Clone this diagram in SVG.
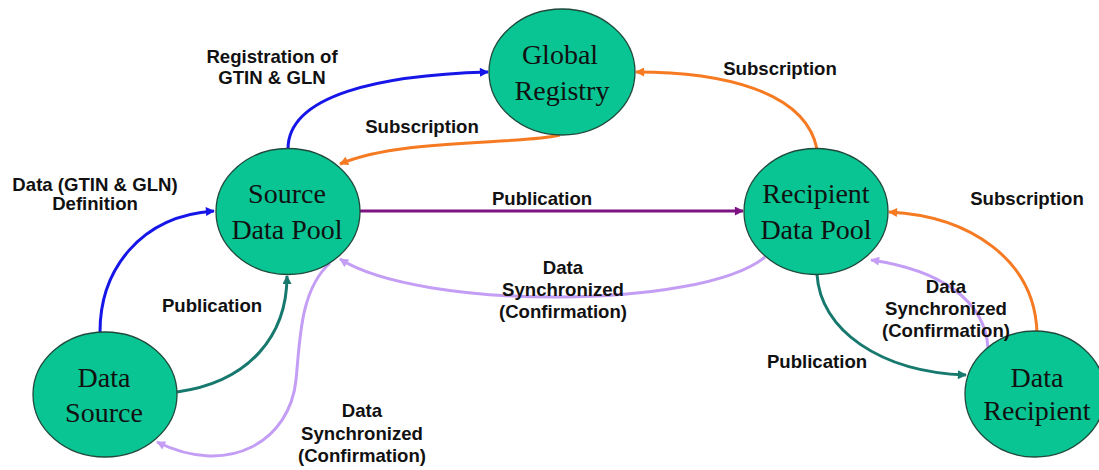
<svg xmlns="http://www.w3.org/2000/svg" width="1099" height="470" viewBox="0 0 1099 470">
<style>
.node{fill:#08c593;stroke:#1f4a3c;stroke-width:1.3}
.nt{font-family:"Liberation Serif","Times New Roman",serif;font-size:28px;fill:#111;text-anchor:middle}
.lb{font-family:"Liberation Sans",Arial,sans-serif;font-size:18.6px;font-weight:bold;fill:#111;text-anchor:middle}
.c{fill:none;stroke-width:3}
.blue{stroke:#1616e8}
.orange{stroke:#f67a22}
.teal{stroke:#17786e}
.lilac{stroke:#c49ef5}
.purple{stroke:#7d1282}
</style>
<defs>
<marker id="aBlue" viewBox="0 0 10 10" refX="9" refY="5" markerWidth="10" markerHeight="9" markerUnits="userSpaceOnUse" orient="auto"><path d="M0,0 L10,5 L0,10 z" fill="#1616e8"/></marker>
<marker id="aOrange" viewBox="0 0 10 10" refX="9" refY="5" markerWidth="10" markerHeight="9" markerUnits="userSpaceOnUse" orient="auto"><path d="M0,0 L10,5 L0,10 z" fill="#f67a22"/></marker>
<marker id="aTeal" viewBox="0 0 10 10" refX="9" refY="5" markerWidth="10" markerHeight="9" markerUnits="userSpaceOnUse" orient="auto"><path d="M0,0 L10,5 L0,10 z" fill="#17786e"/></marker>
<marker id="aLilac" viewBox="0 0 10 10" refX="9" refY="5" markerWidth="10" markerHeight="9" markerUnits="userSpaceOnUse" orient="auto"><path d="M0,0 L10,5 L0,10 z" fill="#c49ef5"/></marker>
<marker id="aPurple" viewBox="0 0 10 10" refX="9" refY="5" markerWidth="10" markerHeight="9" markerUnits="userSpaceOnUse" orient="auto"><path d="M0,0 L10,5 L0,10 z" fill="#7d1282"/></marker>
</defs>
<rect width="1099" height="470" fill="#fff"/>
<g id="connectors">
<path class="c blue" d="M288 149 C288 95 380 75 488 72" marker-end="url(#aBlue)"/>
<path class="c orange" d="M560 135 C520 145 400 138 340 164" marker-end="url(#aOrange)"/>
<path class="c orange" d="M817 149 C805 90 720 72 636 72" marker-end="url(#aOrange)"/>
<path class="c purple" d="M360 211 L743 211" marker-end="url(#aPurple)"/>
<path class="c blue" d="M100 332 C100 270 140 216 214 211" marker-end="url(#aBlue)"/>
<path class="c teal" d="M177 392 C250 382 287 335 287 276" marker-end="url(#aTeal)"/>
<path class="c lilac" d="M330 263 C300 290 300 340 296 380 C290 440 230 478 157 442" marker-end="url(#aLilac)"/>
<path class="c lilac" d="M765 257 C700 310 420 310 340 259" marker-end="url(#aLilac)"/>
<path class="c teal" d="M817 274 C820 330 880 372 966 375" marker-end="url(#aTeal)"/>
<path class="c lilac" d="M988 348 C985 300 940 270 871 260" marker-end="url(#aLilac)"/>
<path class="c orange" d="M1037 333 C1035 260 970 216 889 212" marker-end="url(#aOrange)"/>
</g>
<g id="global-registry">
<ellipse class="node" cx="562" cy="72" rx="73" ry="63"/>
<text class="nt" x="560" y="64">Global</text>
<text class="nt" x="562" y="100">Registry</text>
</g>
<g id="source-data-pool">
<ellipse class="node" cx="288" cy="211.5" rx="72" ry="63"/>
<text class="nt" x="287" y="203">Source</text>
<text class="nt" x="287" y="239">Data Pool</text>
</g>
<g id="recipient-data-pool">
<ellipse class="node" cx="816" cy="211.5" rx="72" ry="63"/>
<text class="nt" x="816" y="203">Recipient</text>
<text class="nt" x="816" y="239">Data Pool</text>
</g>
<g id="data-source">
<ellipse class="node" cx="105" cy="394.5" rx="72" ry="62.5"/>
<text class="nt" x="104" y="387">Data</text>
<text class="nt" x="104" y="422">Source</text>
</g>
<g id="data-recipient">
<ellipse class="node" cx="1035" cy="394" rx="70" ry="63"/>
<text class="nt" x="1037" y="387">Data</text>
<text class="nt" x="1037" y="420">Recipient</text>
</g>
<g id="labels">
<text class="lb" x="272" y="63">Registration of</text>
<text class="lb" x="272" y="84">GTIN &amp; GLN</text>
<text class="lb" x="422" y="133">Subscription</text>
<text class="lb" x="780" y="75">Subscription</text>
<text class="lb" x="542" y="205">Publication</text>
<text class="lb" x="1027" y="205">Subscription</text>
<text class="lb" x="95" y="191">Data (GTIN &amp; GLN)</text>
<text class="lb" x="95" y="210">Definition</text>
<text class="lb" x="212" y="312">Publication</text>
<text class="lb" x="563" y="274">Data</text>
<text class="lb" x="563" y="296">Synchronized</text>
<text class="lb" x="563" y="318">(Confirmation)</text>
<text class="lb" x="946" y="293">Data</text>
<text class="lb" x="946" y="315">Synchronized</text>
<text class="lb" x="946" y="337">(Confirmation)</text>
<text class="lb" x="817" y="368">Publication</text>
<text class="lb" x="362" y="417">Data</text>
<text class="lb" x="362" y="440">Synchronized</text>
<text class="lb" x="362" y="462">(Confirmation)</text>
</g>
</svg>
